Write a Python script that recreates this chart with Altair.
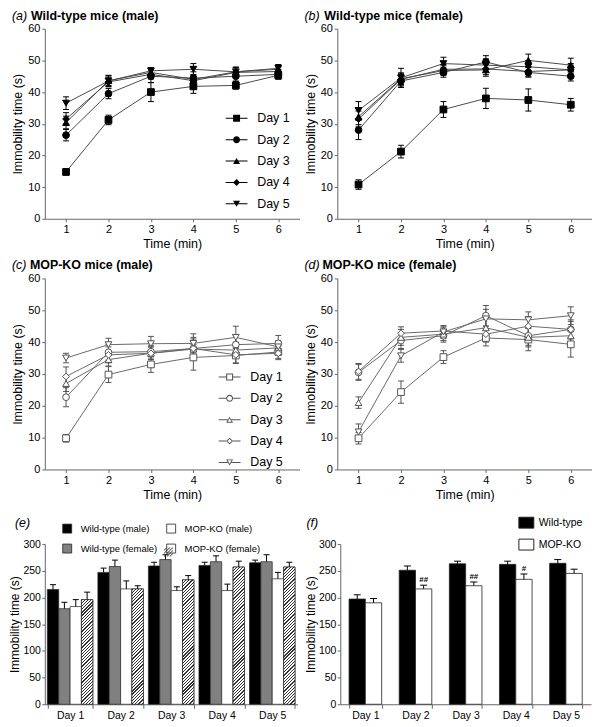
import math
import altair as alt
import pandas as pd

FONT = "Liberation Sans"
TIMES = [1, 2, 3, 4, 5, 6]
DAYS = ["Day 1", "Day 2", "Day 3", "Day 4", "Day 5"]
Y_TICKS_LINE = [0, 10, 20, 30, 40, 50, 60]
Y_TICKS_BAR = [0, 50, 100, 150, 200, 250, 300]

# (a) Wild-type male: rows = Day 1..5, columns = minute 1..6
A_MEAN = [[14.8, 31.2, 40.0, 41.8, 42.1, 45.3],
          [26.4, 39.5, 45.0, 44.4, 45.0, 45.6],
          [30.4, 43.6, 46.2, 44.0, 46.4, 47.2],
          [31.5, 43.2, 45.6, 43.6, 46.2, 46.5],
          [36.5, 43.5, 46.7, 47.2, 46.4, 47.5]]
A_ERR = [[1.0, 1.5, 3.0, 2.2, 1.2, 1.2],
         [1.8, 1.6, 2.0, 2.0, 1.5, 1.5],
         [2.0, 1.5, 1.5, 1.5, 1.5, 1.2],
         [2.0, 1.5, 1.5, 1.5, 1.5, 1.5],
         [2.0, 1.8, 1.0, 1.8, 1.4, 1.2]]

# (b) Wild-type female
B_MEAN = [[10.8, 21.2, 34.5, 38.0, 37.5, 36.0],
          [28.0, 43.5, 46.2, 49.5, 46.2, 45.0],
          [32.2, 44.2, 46.8, 47.0, 50.0, 48.5],
          [31.5, 44.0, 47.2, 47.3, 46.5, 47.0],
          [34.2, 44.5, 49.0, 48.5, 48.0, 47.0]]
B_ERR = [[1.5, 2.0, 2.5, 3.2, 3.5, 2.0],
         [3.0, 2.0, 1.5, 2.0, 1.5, 1.5],
         [2.5, 1.8, 1.5, 2.0, 2.0, 2.2],
         [2.5, 2.0, 1.5, 1.8, 1.5, 1.5],
         [2.8, 3.0, 2.0, 2.0, 2.0, 2.0]]

# (c) MOP-KO male
C_MEAN = [[9.8, 29.8, 33.0, 35.2, 35.8, 36.9],
          [22.7, 36.8, 37.0, 38.0, 39.2, 39.6],
          [27.0, 34.5, 36.5, 37.8, 37.5, 38.2],
          [29.2, 36.0, 36.5, 38.0, 36.0, 36.5],
          [35.0, 39.2, 39.5, 39.6, 41.5, 38.5]]
C_ERR = [[1.2, 2.5, 2.5, 4.0, 2.5, 2.0],
         [3.0, 2.5, 2.0, 3.5, 3.0, 2.5],
         [2.5, 2.0, 2.0, 2.5, 2.5, 2.0],
         [3.0, 2.5, 2.0, 3.0, 2.5, 2.0],
         [1.5, 2.0, 2.3, 3.0, 3.5, 2.0]]

# (d) MOP-KO female
D_MEAN = [[9.8, 24.3, 35.3, 41.3, 40.8, 39.3],
          [30.5, 40.5, 42.0, 48.3, 42.0, 44.0],
          [21.0, 41.5, 42.5, 44.5, 41.5, 42.0],
          [30.8, 42.8, 43.5, 42.5, 45.0, 44.0],
          [11.8, 35.7, 43.2, 47.3, 47.0, 48.3]]
D_ERR = [[1.8, 3.5, 2.0, 2.5, 3.5, 4.0],
         [2.5, 2.5, 2.0, 3.2, 3.0, 2.5],
         [1.8, 2.5, 2.0, 3.0, 3.0, 2.5],
         [2.5, 2.0, 1.5, 2.5, 3.0, 3.0],
         [2.5, 2.0, 2.0, 3.0, 2.5, 2.8]]

# (e) totals per day
E_GROUPS = ["Wild-type (male)", "Wild-type (female)", "MOP-KO (male)", "MOP-KO (female)"]
E_MEAN = [[215, 247, 259, 260, 265],
          [179, 258, 271, 267, 267],
          [183, 216, 213, 213, 235],
          [196, 216, 233, 257, 257]]
E_ERR = [[9, 8, 7, 6, 5],
         [12, 12, 9, 11, 13],
         [13, 15, 7, 12, 12],
         [14, 6, 8, 11, 9]]

# (f) pooled sexes
F_GROUPS = ["Wild-type", "MOP-KO"]
F_MEAN = [[197, 251, 263, 262, 264],
          [190, 216, 222, 234, 245]]
F_ERR = [[8, 8, 5, 6, 7],
         [8, 7, 7, 10, 8]]
F_SIG = ["", "##", "##", "#", ""]

SHAPES = ["square", "circle", "triangle-up", "diamond", "triangle-down"]

# ---- legend glyphs (fill-only SVG paths in the unit square) ----
LINE_FULL = "M-3.14,-0.14H3.14V0.14H-3.14Z"


def seg(x0):
    return f"M-3.14,-0.14H-{x0}V0.14H-3.14Z M{x0},-0.14H3.14V0.14H{x0}Z "


SQ_OUT = "M-1,-1H1V1H-1Z"
SQ_IN = "M-0.7,-0.7V0.7H0.7V-0.7Z"
CI_OUT = "M1,0A1 1 0 1 1 -1,0A1 1 0 1 1 1,0Z"
CI_IN = "M0.7,0A0.7 0.7 0 1 0 -0.7,0A0.7 0.7 0 1 0 0.7,0Z"
TU_OUT = "M0,-0.866L1,0.866L-1,0.866Z"
TU_IN = "M0,-0.366L-0.567,0.616L0.567,0.616Z"
DI_OUT = "M0,-1L1,0L0,1L-1,0Z"
DI_IN = "M0,-0.6L-0.6,0L0,0.6L0.6,0Z"
TD_OUT = "M0,0.866L-1,-0.866L1,-0.866Z"
TD_IN = "M0,0.366L0.567,-0.616L-0.567,-0.616Z"

LEG_FILLED = [LINE_FULL + SQ_OUT, LINE_FULL + CI_OUT, LINE_FULL + TU_OUT, LINE_FULL + DI_OUT,
              LINE_FULL + TD_OUT]
LEG_OPEN = [seg(1) + SQ_OUT + SQ_IN, seg(1) + CI_OUT + CI_IN, seg(0.5) + TU_OUT + TU_IN,
            seg(1) + DI_OUT + DI_IN, seg(0.5) + TD_OUT + TD_IN]


def hatch_path(a=0.12, cs=(-1.33, -0.67, 0.0, 0.67, 1.33)):
    parts = []
    for c in cs:
        lo, hi = c - a, c + a
        if c < 0:
            parts.append(f"M-1,{lo + 1:.3f}L{lo + 1:.3f},-1L{hi + 1:.3f},-1L-1,{hi + 1:.3f}Z")
        elif c > 0:
            parts.append(f"M{lo - 1:.3f},1L1,{lo - 1:.3f}L1,{hi - 1:.3f}L{hi - 1:.3f},1Z")
        else:
            parts.append(f"M-1,{1 - a}L{1 - a},-1L1,-1L1,{-1 + a}L{-1 + a},1L-1,1Z")
    return "".join(parts)


EMPTY = "M0,0Z"
RECT_PATH = "M-1,-0.73H1V0.73H-1Z"
LINE_W = 256


def line_df(mean, err):
    rows = []
    for d, (ms, es) in enumerate(zip(mean, err)):
        for t, m, e in zip(TIMES, ms, es):
            rows.append({"time": t, "day": DAYS[d], "value": m, "lo": m - e, "hi": m + e})
    return pd.DataFrame(rows)


def label_text(txt, x, y, italic=False, bold=False, size=12.5):
    return alt.Chart(alt.Data(values=[{}])).mark_text(
        text=txt, align="left", baseline="alphabetic", fontSize=size, font=FONT,
        fontStyle="italic" if italic else "normal",
        fontWeight="bold" if bold else "normal", color="black",
    ).encode(x=alt.value(x), y=alt.value(y))


def line_panel(mean, err, letter, title, filled, legend_xy, height, title_x):
    df = line_df(mean, err)
    ink = "black" if filled else "#555555"
    line_col = "#4a4a4a" if filled else "#6a6a6a"
    face = "black" if filled else "white"
    xs = alt.Scale(domain=[0.5, 6.5], nice=False, zero=False)
    ys = alt.Scale(domain=[0, 60], nice=False)
    xax = alt.Axis(values=TIMES, title="Time (min)", labelFontSize=11, titleFontSize=12.5,
                   labelFlush=False, format="d")
    yax = alt.Axis(values=Y_TICKS_LINE, title="Immobility time (s)", labelFontSize=11,
                   titleFontSize=12.5)

    def X(f):
        return alt.X(f, type="quantitative", scale=xs, axis=xax)

    def Y(f):
        return alt.Y(f, type="quantitative", scale=ys, axis=yax)

    base = alt.Chart(df)
    lines = base.mark_line(color=line_col, strokeWidth=1).encode(x=X("time"), y=Y("value"), detail="day:N")
    ebar = base.mark_rule(color=ink, strokeWidth=1).encode(x=X("time"), y=Y("lo"), y2="hi")
    cap_lo = base.mark_tick(orient="horizontal", color=ink, size=6, thickness=1, opacity=1).encode(
        x=X("time"), y=Y("lo"))
    cap_hi = base.mark_tick(orient="horizontal", color=ink, size=6, thickness=1, opacity=1).encode(
        x=X("time"), y=Y("hi"))
    pts = base.mark_point(filled=True, fill=face, stroke=ink, strokeWidth=1, size=46, opacity=1).encode(
        x=X("time"), y=Y("value"),
        shape=alt.Shape("day:N", scale=alt.Scale(domain=DAYS, range=SHAPES), legend=None))
    layers = [lines, ebar, cap_lo, cap_hi, pts]
    if legend_xy is not None:
        lx, ly = legend_xy
        leg = base.transform_filter("false").mark_point(
            filled=True, fill=ink, size=49, opacity=1, strokeWidth=0).encode(
            shape=alt.Shape("day:N", scale=alt.Scale(domain=DAYS, range=LEG_FILLED if filled else LEG_OPEN),
                            legend=alt.Legend(title=None, orient="none", legendX=lx, legendY=ly,
                                              labelFontSize=12.5, labelFont=FONT, labelColor="black",
                                              labelOffset=14.5, rowPadding=8.5, padding=0,
                                              symbolSize=49, symbolFillColor=ink,
                                              symbolStrokeWidth=0, symbolOpacity=1)))
        layers.append(leg)
    layers.append(label_text(f"({letter})", -33, -9, italic=True))
    layers.append(label_text(title, title_x, -9, bold=True))
    ch = alt.layer(*layers).properties(width=LINE_W, height=height)
    if legend_xy is not None:
        ch = ch.resolve_scale(shape="independent")
    return ch


def hatch_gradient(h_px, w_px, period=3.2, frac=0.38, ink="#333333", paper="white"):
    tot = w_px + h_px
    k = tot / (w_px ** 2 + h_px ** 2)
    stops = []
    n = int(math.ceil(tot / period))
    for i in range(n):
        t0 = min(1.0, i * period / tot)
        t1 = min(1.0, (i + frac) * period / tot)
        t2 = min(1.0, (i + 1) * period / tot)
        stops += [{"offset": round(t0, 5), "color": ink}, {"offset": round(t1, 5), "color": ink},
                  {"offset": round(t1, 5), "color": paper}, {"offset": round(t2, 5), "color": paper}]
    return {"gradient": "linear", "x1": 0, "y1": 0, "x2": round(w_px * k, 5), "y2": round(h_px * k, 5),
            "stops": stops}


def panel_e():
    rows = []
    for g, (ms, es) in enumerate(zip(E_MEAN, E_ERR)):
        for d, m, e in zip(DAYS, ms, es):
            rows.append({"day": d, "group": E_GROUPS[g], "value": m, "top": m + e})
    df = pd.DataFrame(rows)
    W, H = 254, 161
    pin, pout = 0.1, 0.05
    xs = alt.Scale(domain=DAYS, paddingInner=pin, paddingOuter=pout)
    offs = alt.Scale(domain=E_GROUPS, paddingInner=0, paddingOuter=0)
    ys = alt.Scale(domain=[0, 300], nice=False)
    xax = alt.Axis(title=None, labelAngle=0, tickBand="extent", labelFontSize=10.5, tickSize=4)
    yax = alt.Axis(values=Y_TICKS_BAR, title="Immobility time (s)", labelFontSize=10.5,
                   titleFontSize=12, titlePadding=1, labelPadding=1.5)
    X = alt.X("day:N", scale=xs, axis=xax)
    XO = alt.XOffset("group:N", scale=offs)

    def Y(f):
        return alt.Y(f, type="quantitative", scale=ys, axis=yax)

    lx, ly = 17.5, -21
    fill_scale = alt.Scale(domain=E_GROUPS, range=["black", "#808080", "white", "white"])
    base = alt.Chart(df)
    bars = base.mark_bar(stroke="#222222", strokeWidth=0.7).encode(
        x=X, xOffset=XO, y=Y("value"),
        fill=alt.Fill("group:N", scale=fill_scale,
                      legend=alt.Legend(title=None, orient="none", legendX=lx, legendY=ly, columns=2,
                                        columnPadding=6.5, rowPadding=6.5, labelFontSize=9.5,
                                        labelFont=FONT, labelColor="black", labelOffset=8.5, padding=0,
                                        symbolSize=81, symbolOpacity=1, symbolType="square",
                                        symbolStrokeColor="#222222", symbolStrokeWidth=0.8)))
    step = W / (len(DAYS) - pin + 2 * pout)
    bw = step * (1 - pin) / len(E_GROUPS)
    conds = [{"test": f"datum.day === '{d}'", "value": hatch_gradient(m * H / 300.0, bw)}
             for d, m in zip(DAYS, E_MEAN[3])]
    hatch = base.transform_filter(alt.datum.group == E_GROUPS[3]).mark_bar(
        stroke="#222222", strokeWidth=0.7).encode(
        x=X, xOffset=XO, y=Y("value"), fill=alt.FillValue("white", condition=conds))
    ebar = base.mark_rule(color="black", strokeWidth=1).encode(x=X, xOffset=XO, y=Y("value"), y2="top")
    cap = base.mark_tick(orient="horizontal", size=6, thickness=1, color="black", opacity=1).encode(
        x=X, xOffset=XO, y=Y("top"))
    # overlay legend (same grid, no labels) that adds the hatch lines onto the "MOP-KO (female)" swatch;
    # its rows are only as tall as the swatch, so the row gap and top are widened to match the labelled legend
    hatch_leg = base.transform_filter("false").mark_point(
        filled=True, fill="#333333", size=81, opacity=1, strokeWidth=0).encode(
        shape=alt.Shape("group:N",
                        scale=alt.Scale(domain=E_GROUPS + ["-"],
                                        range=[EMPTY, EMPTY, EMPTY, hatch_path(), EMPTY]),
                        legend=alt.Legend(values=E_GROUPS, labelExpr="''", title=None, orient="none",
                                          legendX=lx, legendY=ly + 2.25, columns=2, columnPadding=84,
                                          rowPadding=11, labelFontSize=9.5, labelOffset=8.5,
                                          padding=0, symbolSize=81, symbolOpacity=1,
                                          symbolFillColor="#333333", symbolStrokeWidth=0)))
    txt = label_text("(e)", -30, -17.5, italic=True)
    return alt.layer(bars, hatch, ebar, cap, hatch_leg, txt).properties(width=W, height=H)


def panel_f():
    rows = []
    for g, (ms, es) in enumerate(zip(F_MEAN, F_ERR)):
        for i, (d, m, e) in enumerate(zip(DAYS, ms, es)):
            rows.append({"day": d, "group": F_GROUPS[g], "value": m, "top": m + e,
                         "sig": F_SIG[i] if g == 1 else ""})
    df = pd.DataFrame(rows)
    W, H = 252, 161
    xs = alt.Scale(domain=DAYS, paddingInner=0.35, paddingOuter=0.175)
    offs = alt.Scale(domain=F_GROUPS, paddingInner=0, paddingOuter=0)
    ys = alt.Scale(domain=[0, 300], nice=False)
    xax = alt.Axis(title=None, labelAngle=0, tickBand="extent", labelFontSize=10.5, tickSize=4)
    yax = alt.Axis(values=Y_TICKS_BAR, title="Immobility time (s)", labelFontSize=10.5,
                   titleFontSize=12, titlePadding=1, labelPadding=1.5)
    X = alt.X("day:N", scale=xs, axis=xax)
    XO = alt.XOffset("group:N", scale=offs)

    def Y(f):
        return alt.Y(f, type="quantitative", scale=ys, axis=yax)

    base = alt.Chart(df)
    bars = base.mark_bar(stroke="#222222", strokeWidth=0.8).encode(
        x=X, xOffset=XO, y=Y("value"),
        fill=alt.Fill("group:N", scale=alt.Scale(domain=F_GROUPS, range=["black", "white"]),
                      legend=alt.Legend(title=None, orient="none", legendX=179, legendY=-29.5,
                                        symbolType=RECT_PATH, symbolSize=225,
                                        symbolStrokeColor="#222222", symbolStrokeWidth=1,
                                        labelFontSize=10.5, labelFont=FONT, labelColor="black",
                                        labelOffset=4.5, rowPadding=6, padding=0, symbolOpacity=1)))
    ebar = base.mark_rule(color="black", strokeWidth=1).encode(x=X, xOffset=XO, y=Y("value"), y2="top")
    cap = base.mark_tick(orient="horizontal", size=7, thickness=1, color="black", opacity=1).encode(
        x=X, xOffset=XO, y=Y("top"))
    sig = base.transform_filter(alt.datum.group == "MOP-KO").mark_text(
        fontSize=8, fontWeight="bold", baseline="alphabetic", dy=-3, color="black", font=FONT).encode(
        x=X, xOffset=XO, y=Y("top"), text="sig:N")
    txt = label_text("(f)", -34, -17.5, italic=True)
    return alt.layer(bars, ebar, cap, sig, txt).properties(width=W, height=H)


def indep(ch):
    return ch.resolve_scale(shape="independent", fill="independent", xOffset="independent").resolve_legend(
        shape="independent", fill="independent")


pa = line_panel(A_MEAN, A_ERR, "a", "Wild-type mice (male)", True, (186.5, 83.75), 191, -14)
pb = line_panel(B_MEAN, B_ERR, "b", "Wild-type mice (female)", True, None, 191, -13)
pc = line_panel(C_MEAN, C_ERR, "c", "MOP-KO mice (male)", False, (179.5, 92.75), 192, -15)
pd_ = line_panel(D_MEAN, D_ERR, "d", "MOP-KO mice (female)", False, None, 192, -15)
pe = indep(panel_e())
pf = panel_f()

row1 = indep(alt.hconcat(pa, pb, spacing=4))
row2 = indep(alt.hconcat(pc, pd_, spacing=4))
row3 = indep(alt.hconcat(pe, pf, spacing=6))
upper = indep(alt.vconcat(row1, row2, spacing=9))
chart = indep(alt.vconcat(upper, row3, spacing=13)).properties(padding=0)

chart = chart.configure(font=FONT).configure_view(stroke=None).configure_axis(
    grid=False, domainColor="#666666", tickColor="#666666", labelColor="black", titleColor="black",
    labelFont=FONT, titleFont=FONT, titleFontWeight="normal", tickSize=3, labelPadding=2,
    titlePadding=3, domainWidth=1, tickWidth=1,
).configure_legend(labelFont=FONT)

chart.save("out.html", embed_options={"renderer": "svg", "actions": False})
